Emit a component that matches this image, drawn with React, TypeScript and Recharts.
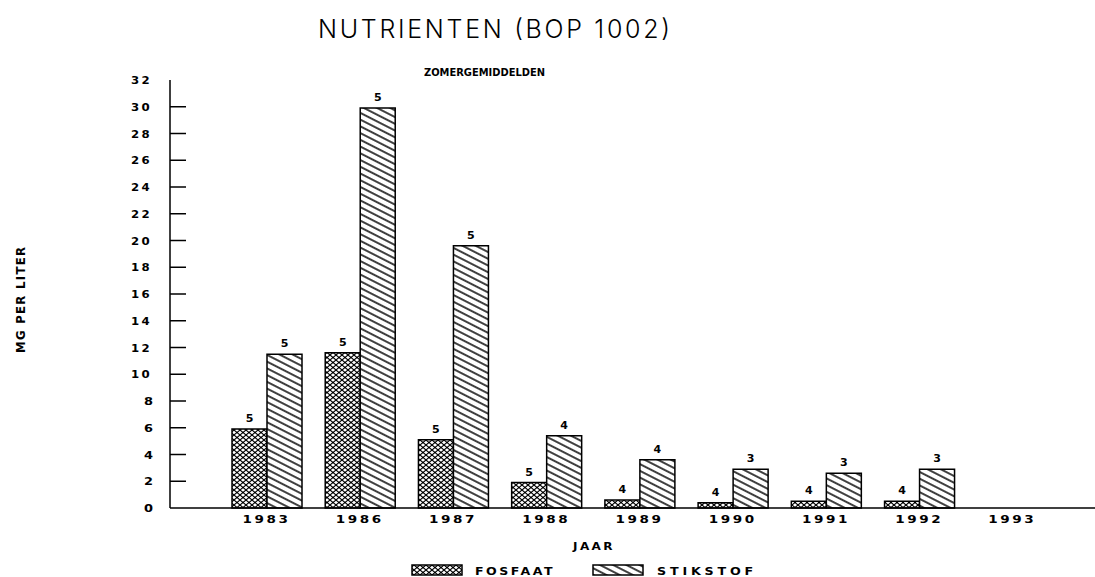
import React from 'react';
import { BarChart, Bar, XAxis, YAxis, LabelList } from 'recharts';

// ---- data ----
const years = ['1983', '1986', '1987', '1988', '1989', '1990', '1991', '1992', '1993'];
const fosfaat = [5.9, 11.6, 5.1, 1.9, 0.6, 0.4, 0.5, 0.5, null];
const stikstof = [11.5, 29.9, 19.6, 5.4, 3.6, 2.9, 2.6, 2.9, null];
const fosfaatN = [5, 5, 5, 5, 4, 4, 4, 4, null];
const stikstofN = [5, 5, 5, 4, 4, 3, 3, 3, null];
const yTicks = [0, 2, 4, 6, 8, 10, 12, 14, 16, 18, 20, 22, 24, 26, 28, 30, 32];

const data = years.map((year, i) => ({
  year,
  fosfaat: fosfaat[i],
  stikstof: stikstof[i],
  fN: fosfaatN[i],
  sN: stikstofN[i],
}));

const W = 1095;
const H = 577;
const AXIS_X = 170;
const PLOT = "'DejaVu Sans', 'Liberation Sans', sans-serif";

const YTick = (props: any) => {
  const { y, payload } = props;
  const v = payload.value;
  const two = String(v).length === 2;
  return (
    <g>
      {v !== 0 && v !== 32 && (
        <line x1={AXIS_X} y1={y} x2={AXIS_X + 16} y2={y} stroke="#000" strokeWidth={1.5} />
      )}
      <text
        x={two ? 131 : 144}
        y={y + 4}
        fontFamily={PLOT}
        fontWeight="bold"
        fontSize={10}
        fill="#000"
        letterSpacing={two ? 2 : 0}
        textLength={two ? 21 : 9}
        lengthAdjust="spacingAndGlyphs"
      >
        {v}
      </text>
    </g>
  );
};

const XTick = (props: any) => {
  const { x, y, payload } = props;
  return (
    <text
      x={x - 24}
      y={y + 15}
      fontFamily={PLOT}
      fontWeight="bold"
      fontSize={10.5}
      fill="#000"
      letterSpacing={2}
      textLength={48}
      lengthAdjust="spacingAndGlyphs"
    >
      {payload.value}
    </text>
  );
};

const labelStyle = { fontFamily: PLOT, fontWeight: 'bold' as const, fontSize: 11 };

export default function App() {
  return (
    <div style={{ position: 'relative', width: W, height: H, background: '#fff' }}>
      <style>{`body{margin:0;background:#fff}`}</style>
      <BarChart
        width={W}
        height={H}
        data={data}
        margin={{ top: 80, right: 0, left: 0, bottom: 39 }}
        barGap={0}
        barSize={35}
      >
        <XAxis
          dataKey="year"
          interval={0}
          tickLine={false}
          tickSize={0}
          tickMargin={0}
          tick={<XTick />}
          padding={{ left: 50, right: 36 }}
          axisLine={{ stroke: '#000', strokeWidth: 1.5 }}
          height={30}
        />
        <XAxis
          xAxisId="top"
          dataKey="year"
          orientation="top"
          height={0}
          tick={false}
          tickLine={false}
          axisLine={{ stroke: '#000', strokeWidth: 1.5 }}
        />
        <YAxis
          width={AXIS_X}
          domain={[0, 32]}
          ticks={yTicks}
          interval={0}
          tickLine={false}
          tickSize={0}
          tickMargin={0}
          tick={<YTick />}
          axisLine={{ stroke: '#000', strokeWidth: 1.5 }}
        />
        <Bar
          dataKey="fosfaat"
          fill="url(#crossPat)"
          stroke="#000"
          strokeWidth={1.5}
          isAnimationActive={false}
        >
          <LabelList dataKey="fN" position="top" offset={7} fill="#000" style={labelStyle} />
        </Bar>
        <Bar
          dataKey="stikstof"
          fill="url(#hatchPat)"
          stroke="#000"
          strokeWidth={1.5}
          isAnimationActive={false}
        >
          <LabelList dataKey="sN" position="top" offset={7} fill="#000" style={labelStyle} />
        </Bar>
      </BarChart>

      <svg
        width={W}
        height={H}
        style={{ position: 'absolute', left: 0, top: 0, pointerEvents: 'none' }}
      >
        <defs>
          <pattern id="crossPat" patternUnits="userSpaceOnUse" width="6" height="5">
            <rect width="6" height="5" fill="#fff" />
            <path d="M0,0 L6,5 M0,5 L6,0" stroke="#000" strokeWidth="1.1" />
          </pattern>
          <pattern
            id="hatchPat"
            patternUnits="userSpaceOnUse"
            width="6"
            height="6"
            patternTransform="rotate(27)"
          >
            <rect width="6" height="6" fill="#fff" />
            <line x1="0" y1="3" x2="6" y2="3" stroke="#000" strokeWidth="1.5" />
          </pattern>
        </defs>

        <text
          x={318}
          y={38}
          fontFamily="Inter, 'DejaVu Sans', sans-serif"
          fontWeight={300}
          fontSize={25}
          fill="#000"
          textLength={352}
          lengthAdjust="spacing"
        >
          NUTRIENTEN (BOP 1002)
        </text>
        <text
          x={424}
          y={75.5}
          fontFamily={PLOT}
          fontWeight="bold"
          fontSize={10.5}
          fill="#000"
          textLength={121}
          lengthAdjust="spacingAndGlyphs"
        >
          ZOMERGEMIDDELDEN
        </text>
        <text
          x={573}
          y={550}
          fontFamily={PLOT}
          fontWeight="bold"
          fontSize={10}
          fill="#000"
          letterSpacing={2}
          textLength={42}
          lengthAdjust="spacingAndGlyphs"
        >
          JAAR
        </text>
        <text
          transform="translate(25,300) rotate(-90)"
          textAnchor="middle"
          fontFamily="'Liberation Sans Narrow', 'DejaVu Sans Condensed', 'Liberation Sans', sans-serif"
          fontSize={13}
          fontWeight="bold"
          fill="#000"
          textLength={106}
          lengthAdjust="spacing"
        >
          MG PER LITER
        </text>

        <rect x={412} y={565} width={50} height={10} fill="url(#crossPat)" stroke="#000" strokeWidth={1.5} />
        <text
          x={475}
          y={575}
          fontFamily={PLOT}
          fontWeight="bold"
          fontSize={10}
          fill="#000"
          letterSpacing={2}
          textLength={80}
          lengthAdjust="spacingAndGlyphs"
        >
          FOSFAAT
        </text>
        <rect x={593} y={565} width={50} height={10} fill="url(#hatchPat)" stroke="#000" strokeWidth={1.5} />
        <text
          x={657}
          y={575}
          fontFamily={PLOT}
          fontWeight="bold"
          fontSize={10}
          fill="#000"
          letterSpacing={3}
          textLength={100}
          lengthAdjust="spacingAndGlyphs"
        >
          STIKSTOF
        </text>
      </svg>
    </div>
  );
}
